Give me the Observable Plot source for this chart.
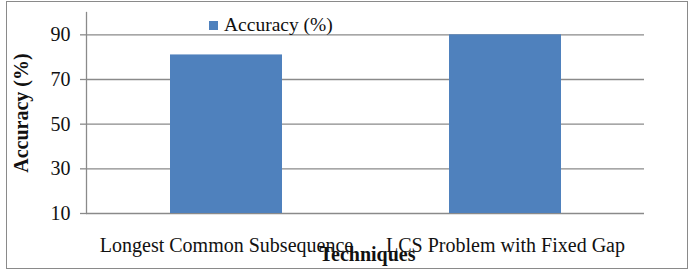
<!DOCTYPE html>
<html>
<head>
<meta charset="utf-8">
<script src="https://cdn.jsdelivr.net/npm/d3@7"></script>
<script src="https://cdn.jsdelivr.net/npm/@observablehq/plot@0.6"></script>
<style>
  html, body { margin: 0; padding: 0; background: #fff; }
  #wrap { position: relative; width: 694px; height: 276px; font-family: "Liberation Serif", "Times New Roman", serif; }
  #wrap svg { position: absolute; left: 0; top: 0; }
  #border { position: absolute; left: 6px; top: 1px; width: 680px; height: 266px; border: 1.5px solid #8a8a8a; pointer-events: none; }
  #legend { position: absolute; left: 209px; top: 12px; font-size: 19.5px; color: #111; white-space: nowrap; line-height: 26px; }
  #legend .sw { display: inline-block; width: 9px; height: 9px; background: #4F81BD; margin-right: 6px; vertical-align: 1px; }
</style>
</head>
<body>
<div id="wrap">
  <div id="legend"><span class="sw"></span>Accuracy (%)</div>
  <div id="border"></div>
</div>
<script>
const techniques = ["Longest Common Subsequence", "LCS Problem with Fixed Gap"];
const accuracy = [81, 90];
const yTicks = [10, 30, 50, 70, 90];
const seriesName = "Accuracy (%)";
const xTitle = "Techniques";
const yTitle = "Accuracy (%)";

const data = techniques.map((t, i) => ({technique: t, value: accuracy[i]}));

const chart = Plot.plot({
  width: 694,
  height: 276,
  marginLeft: 86,
  marginRight: 50,
  marginTop: 12,
  marginBottom: 63,
  style: {fontFamily: "'Liberation Serif', 'Times New Roman', serif", fontSize: "20px", color: "#111", background: "transparent"},
  x: {domain: techniques, paddingInner: 0.6, paddingOuter: 0.3, label: null},
  y: {domain: [10, 100], label: null},
  marks: [
    Plot.gridY(yTicks, {stroke: "#8a8a8a", strokeOpacity: 1, strokeWidth: 1.3}),
    Plot.barY(data, {x: "technique", y1: 10, y2: "value", fill: "#4F81BD"}),
    Plot.frame({anchor: "left", stroke: "#8a8a8a", strokeWidth: 1.3}),
    Plot.axisY(yTicks, {tickSize: 6, tickPadding: 10, stroke: "#8a8a8a", strokeWidth: 1.3, fill: "#111", fontSize: 20, label: null}),
    Plot.axisX({tickSize: 0, tickPadding: 24, fill: "#111", fontSize: 20, label: null}),
    Plot.text([xTitle], {frameAnchor: "bottom", dy: 47, lineAnchor: "bottom", fontWeight: "bold", fontSize: 20, fill: "#111", dx: 2}),
    Plot.text([yTitle], {frameAnchor: "left", dx: -64.5, rotate: -90, lineAnchor: "middle", textAnchor: "middle", fontWeight: "bold", fontSize: 20, fill: "#111"})
  ]
});
document.getElementById("wrap").prepend(chart);
</script>
</body>
</html>
